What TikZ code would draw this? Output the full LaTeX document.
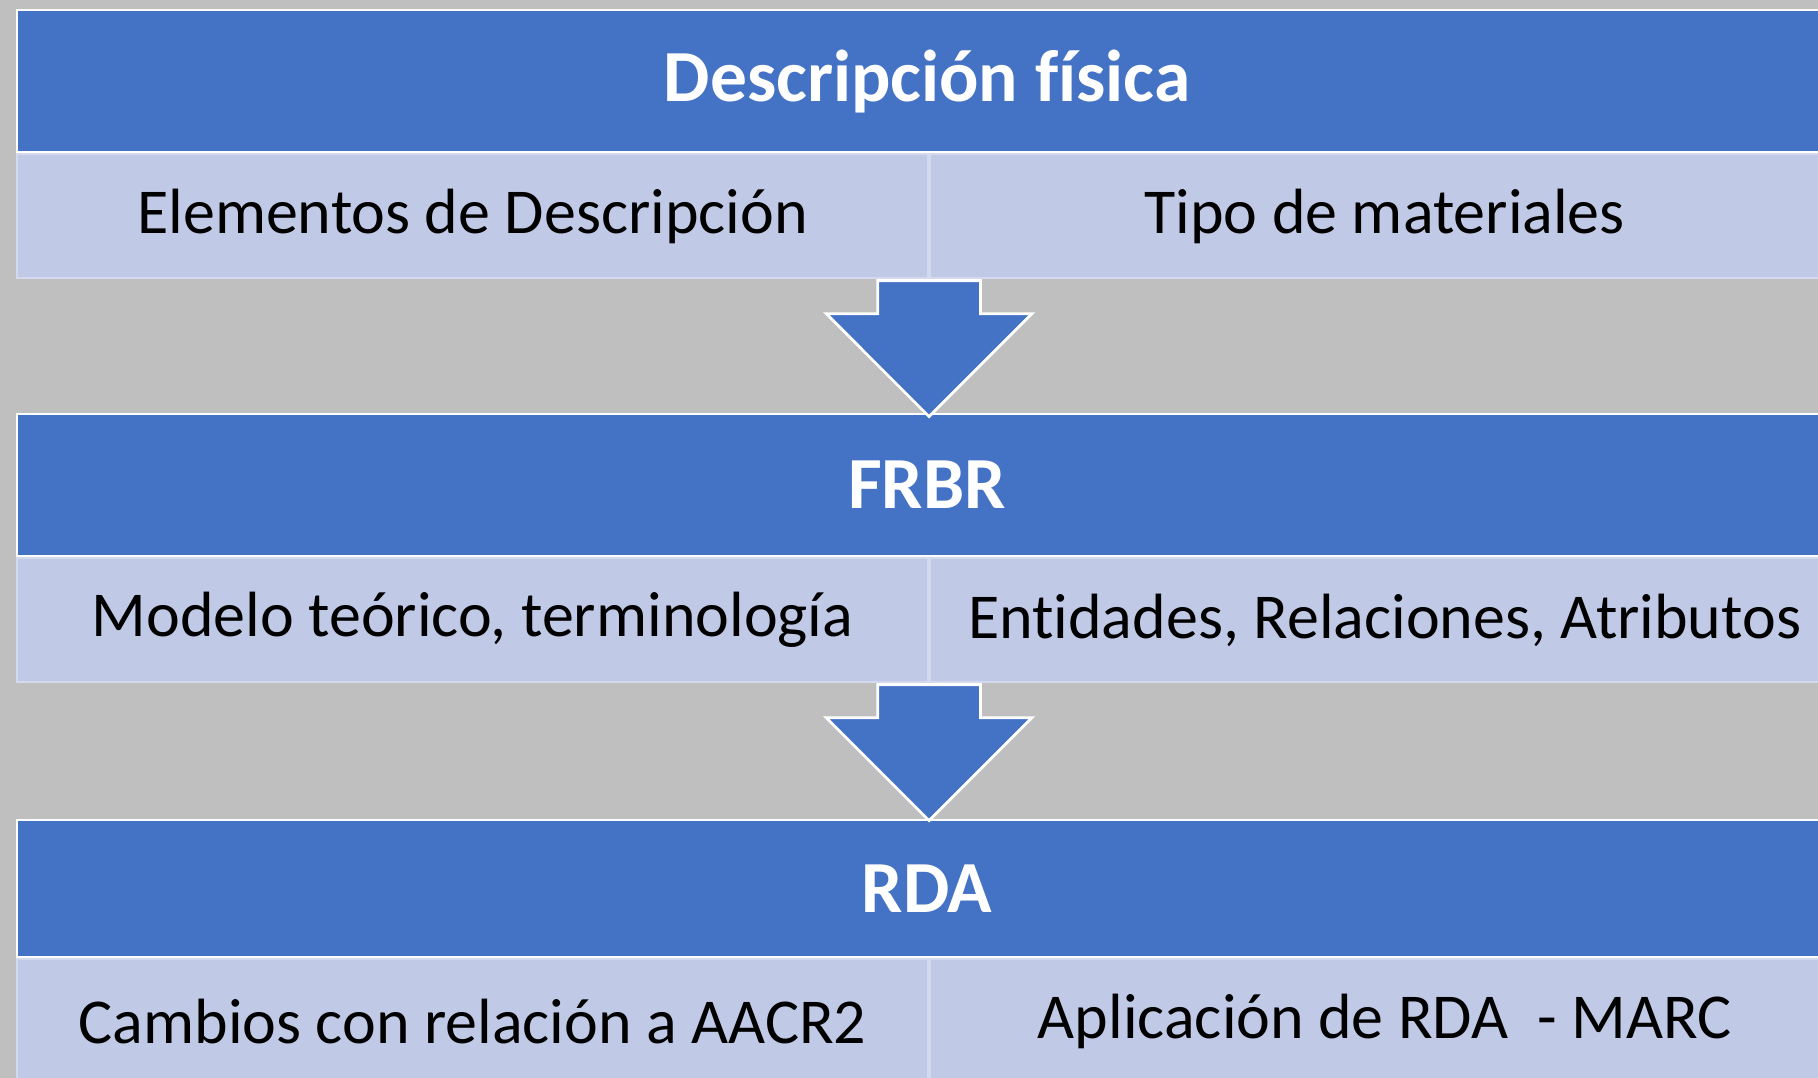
\documentclass[tikz,border=0pt]{standalone}
\usepackage{fontspec}
\setmainfont{Carlito}[Ligatures=NoCommon]
\usepackage{xcolor}
\usepackage{tikz}
\usetikzlibrary{positioning, shapes.arrows}

\definecolor{hdrblue}{HTML}{4472C4}
\definecolor{cellblue}{HTML}{C0C9E5}
\definecolor{cellline}{HTML}{D4DAEE}
\definecolor{backgray}{HTML}{BFBFBF}

\begin{document}
\begin{tikzpicture}[
    header/.style={rectangle, draw=white, line width=0.6pt, fill=hdrblue, text=white, font=\fontsize{20.9}{25}\selectfont\bfseries, minimum width=18.2cm, minimum height=1.42cm, inner sep=0pt},
    cell/.style={rectangle, draw=cellline, line width=0.6pt, fill=cellblue, font=\fontsize{18.2}{22}\selectfont, minimum height=1.24cm, inner sep=0pt},
    leftcell/.style={cell, minimum width=9.11cm},
    rightcell/.style={cell, minimum width=9.09cm},
    downarrow/.style={single arrow, draw=white, line width=0.8pt, fill=hdrblue, shape border rotate=270, single arrow tip angle=90, minimum height=1.36cm, minimum width=2.03cm, single arrow head extend=0.515cm, inner xsep=0.5cm, inner ysep=0pt}
]

% fondo
\fill[backgray] (0,0) rectangle (18.18,-10.78);
\clip (0,0) rectangle (18.18,-10.78);

% Descripcion fisica
\node[header, anchor=north west] (desc_hdr) at (0.16,-0.09) {Descripción física};
\node[leftcell, below right=0pt and 0pt of desc_hdr.south west] (desc_left) {Elementos de Descripción};
\node[rightcell, right=0pt of desc_left] (desc_right) {Tipo de materiales};

% FRBR
\node[header, anchor=north west] (frbr_hdr) at (0.16,-4.13) {FRBR};
\node[leftcell, below right=0pt and 0pt of frbr_hdr.south west] (frbr_left) {Modelo teórico, terminología};
\node[rightcell, right=0pt of frbr_left] (frbr_right) {Entidades, Relaciones, Atributos};

% RDA
\node[header, minimum height=1.37cm, anchor=north west] (rda_hdr) at (0.16,-8.19) {RDA};
\node[leftcell, below right=0pt and 0pt of rda_hdr.south west] (rda_left) {Cambios con relación a AACR2};
\node[rightcell, right=0pt of rda_left] (rda_right) {Aplicación de RDA\ \ - MARC};

% flechas
\node[downarrow, anchor=tail] (arrow_one) at (desc_left.south east) {};
\node[downarrow, anchor=tail] (arrow_two) at (frbr_left.south east) {};

\end{tikzpicture}
\end{document}
